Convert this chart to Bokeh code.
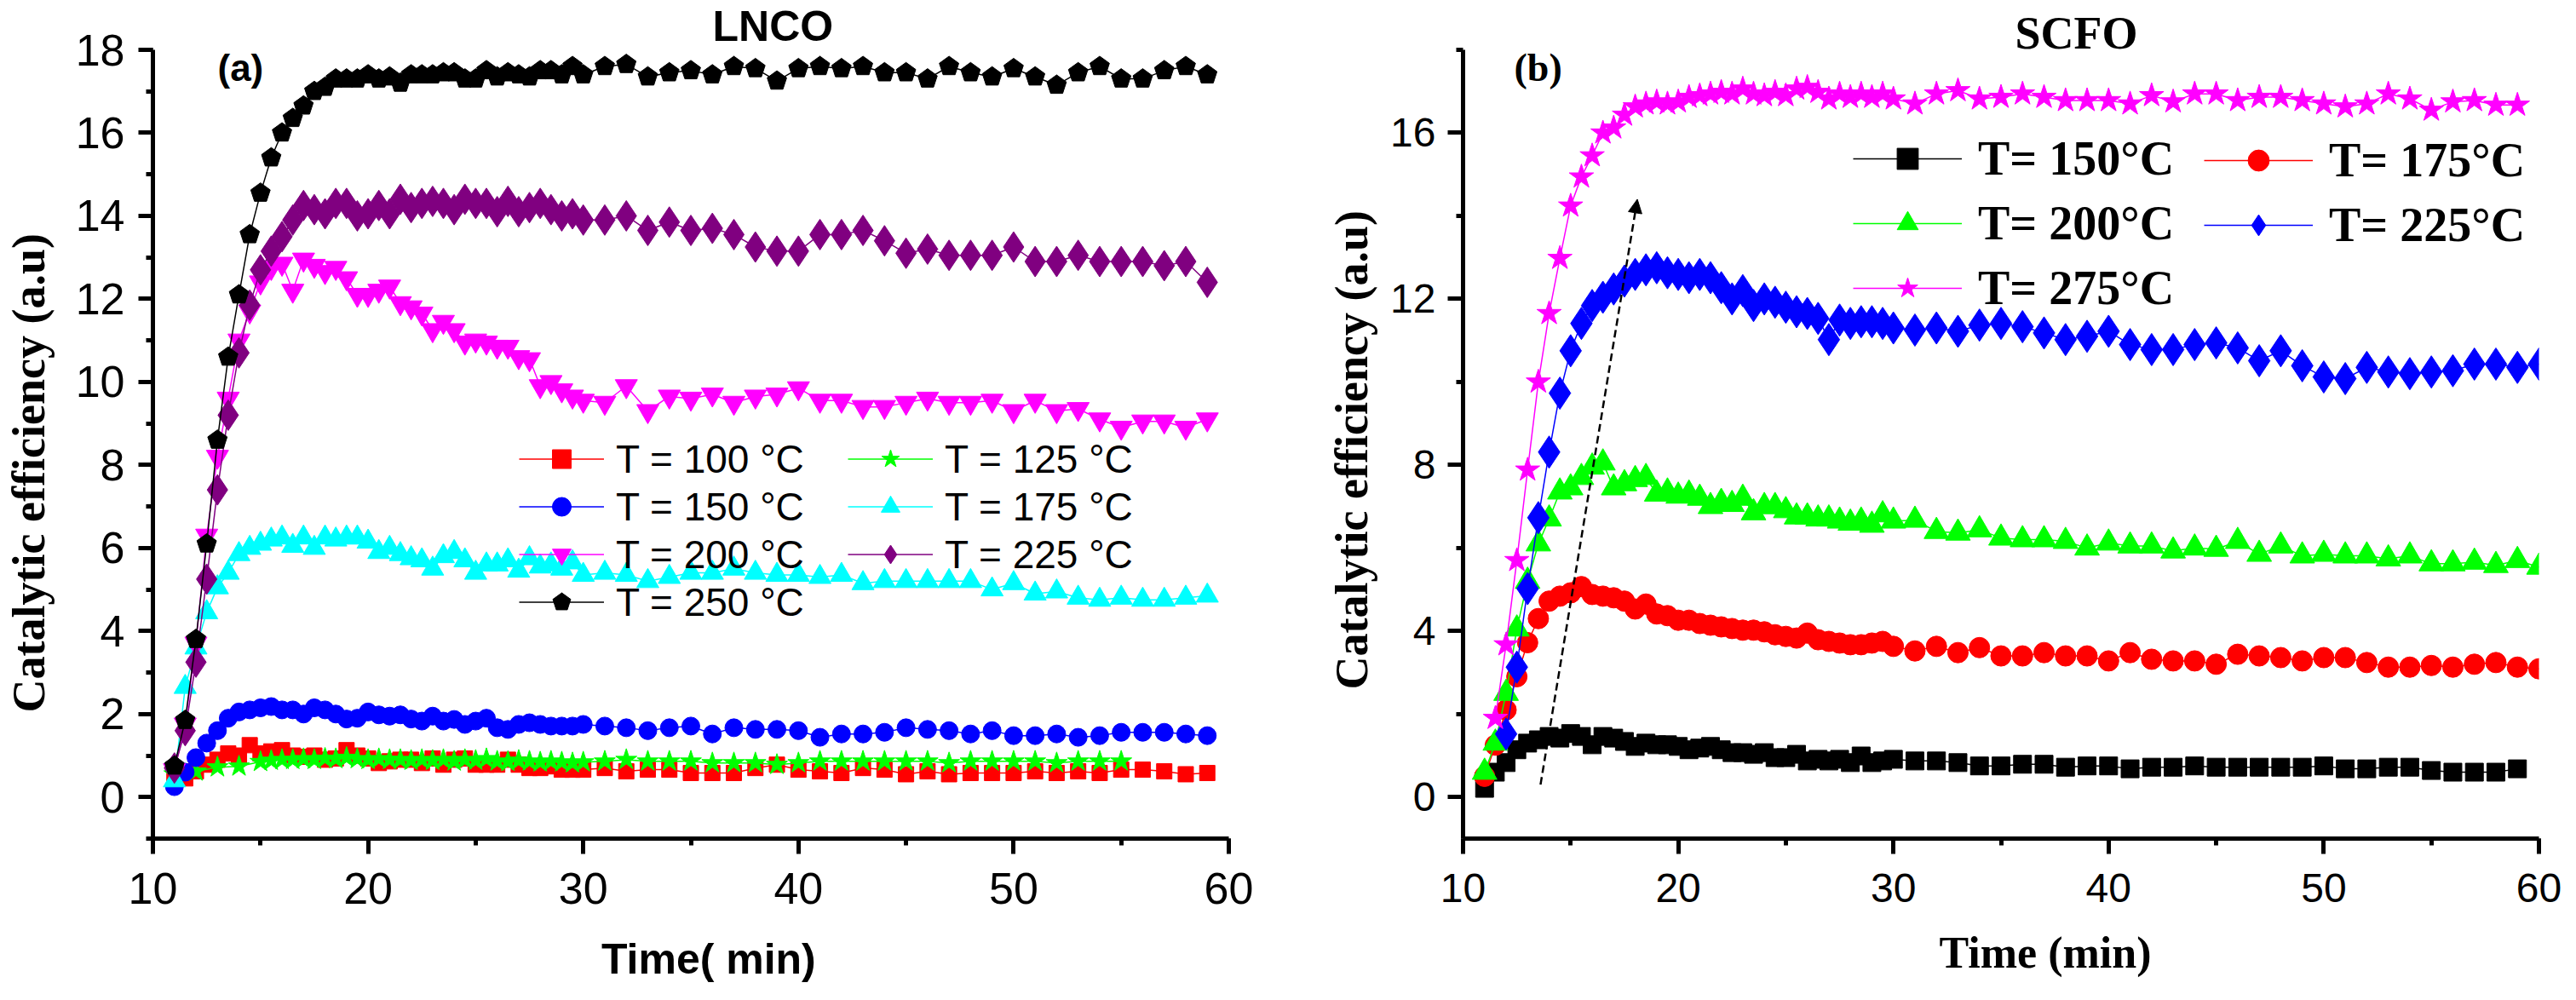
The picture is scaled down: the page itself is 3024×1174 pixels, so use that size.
import math
from bokeh.plotting import figure
from bokeh.layouts import row
from bokeh.models import (Range1d, SingleIntervalTicker, Legend, LegendItem,
                          Label, Arrow, NormalHead)
from bokeh.embed import file_html
from bokeh.resources import INLINE

# ---------------- time axes (min) ----------------
T_DENSE = [11.0, 11.5, 12.0, 12.5, 13.0, 13.5, 14.0, 14.5, 15.0, 15.5, 16.0, 16.5,
           17.0, 17.5, 18.0, 18.5, 19.0, 19.5, 20.0, 20.5, 21.0, 21.5, 22.0, 22.5,
           23.0, 23.5, 24.0, 24.5, 25.0, 25.5, 26.0, 26.5, 27.0, 27.5, 28.0, 28.5,
           29.0, 29.5, 30.0]
T_SPARSE = [31, 32, 33, 34, 35, 36, 37, 38, 39, 40, 41, 42, 43, 44, 45, 46, 47,
            48, 49, 50, 51, 52, 53, 54, 55, 56, 57, 58, 59]
T_SPARSE_60 = T_SPARSE + [60]
T_SPARSE_55 = [31, 32, 33, 34, 35, 36, 37, 38, 39, 40, 41, 42, 43, 44, 45, 46,
               47, 48, 49, 50, 51, 52, 53, 54, 55]
T_EARLY_125 = [11, 12, 13, 14]

# ---------------- panel (a) LNCO ----------------
A_X_100 = T_DENSE + T_SPARSE
A_Y_100 = [0.45, 0.45, 0.62, 0.78, 0.90, 1.05, 1.00, 1.25, 1.05, 1.10, 1.13, 1.00,
           0.97, 1.00, 0.90, 0.93, 1.13, 1.00, 0.93, 0.82, 0.86, 0.90, 0.90, 0.82,
           0.93, 0.78, 0.90, 0.93, 0.78, 0.78, 0.78, 0.90, 0.78, 0.70, 0.70, 0.74,
           0.66, 0.66, 0.66,
           0.70, 0.62, 0.66, 0.66, 0.58, 0.58, 0.58, 0.70, 0.78, 0.66, 0.62, 0.58,
           0.70, 0.66, 0.55, 0.62, 0.55, 0.58, 0.58, 0.58, 0.62, 0.58, 0.62, 0.58,
           0.66, 0.66, 0.62, 0.55, 0.58]

A_X_125 = T_EARLY_125 + T_DENSE[8:] + T_SPARSE_55
A_Y_125 = [0.55, 0.62, 0.72, 0.74,
           0.85, 0.88, 0.90, 0.90, 0.92, 0.90, 0.93, 0.92, 0.95, 0.92, 0.90, 0.92,
           0.90, 0.90, 0.88, 0.90, 0.88, 0.90, 0.86, 0.90, 0.88, 0.92, 0.86, 0.85,
           0.88, 0.86, 0.84, 0.86, 0.84, 0.82, 0.84,
           0.86, 0.90, 0.86, 0.86, 0.86, 0.82, 0.82, 0.82, 0.78, 0.82, 0.86, 0.86,
           0.86, 0.86, 0.86, 0.86, 0.82, 0.86, 0.86, 0.86, 0.86, 0.82, 0.86, 0.86,
           0.86]

A_X_150 = T_DENSE + T_SPARSE
A_Y_150 = [0.25, 0.60, 0.95, 1.30, 1.60, 1.90, 2.05, 2.10, 2.15, 2.18, 2.10, 2.10,
           2.00, 2.15, 2.10, 2.00, 1.88, 1.90, 2.05, 1.98, 1.95, 1.98, 1.88, 1.83,
           1.95, 1.83, 1.87, 1.75, 1.83, 1.90, 1.67, 1.63, 1.75, 1.79, 1.75, 1.71,
           1.71, 1.71, 1.75,
           1.71, 1.67, 1.60, 1.67, 1.71, 1.52, 1.67, 1.63, 1.63, 1.60, 1.44, 1.52,
           1.52, 1.56, 1.67, 1.63, 1.60, 1.52, 1.60, 1.48, 1.48, 1.52, 1.44, 1.48,
           1.56, 1.56, 1.56, 1.52, 1.48]

A_X_175 = T_DENSE + T_SPARSE
A_Y_175 = [0.40, 2.65, 3.60, 4.45, 5.05, 5.40, 5.85, 6.00, 6.10, 6.20, 6.25, 6.05,
           6.25, 6.00, 6.25, 6.20, 6.25, 6.25, 6.15, 5.90, 6.00, 5.85, 5.75, 5.70,
           5.50, 5.80, 5.90, 5.70, 5.40, 5.60, 5.60, 5.70, 5.45, 5.75, 5.55, 5.60,
           5.50, 5.65, 5.35,
           5.40, 5.35, 5.20, 5.30, 5.40, 5.40, 5.50, 5.40, 5.35, 5.35, 5.30, 5.35,
           5.15, 5.20, 5.20, 5.20, 5.20, 5.20, 5.00, 5.15, 4.90, 4.95, 4.80, 4.75,
           4.80, 4.75, 4.75, 4.80, 4.85]

A_X_200 = T_DENSE + T_SPARSE
A_Y_200 = [0.65, 1.75, 3.70, 6.30, 8.20, 9.60, 11.00, 11.70, 12.40, 12.75, 12.85,
           12.20, 12.95, 12.80, 12.65, 12.75, 12.50, 12.10, 12.10, 12.20, 12.30,
           11.90, 11.80, 11.65, 11.25, 11.45, 11.25, 10.95, 11.00, 10.95, 10.85,
           10.85, 10.60, 10.55, 9.90, 10.00, 9.80, 9.65, 9.55,
           9.50, 9.90, 9.30, 9.65, 9.60, 9.70, 9.50, 9.65, 9.70, 9.85, 9.55, 9.55,
           9.40, 9.40, 9.50, 9.60, 9.50, 9.50, 9.55, 9.30, 9.55, 9.30, 9.35, 9.10,
           8.90, 9.05, 9.05, 8.90, 9.10]

A_X_225 = T_DENSE + T_SPARSE
A_Y_225 = [0.70, 1.60, 3.25, 5.25, 7.40, 9.20, 10.70, 11.85, 12.70, 13.15, 13.50,
           13.90, 14.25, 14.15, 14.05, 14.30, 14.30, 14.00, 14.05, 14.25, 14.05,
           14.40, 14.20, 14.30, 14.35, 14.30, 14.15, 14.40, 14.30, 14.30, 14.10,
           14.35, 14.10, 14.20, 14.30, 14.15, 14.00, 14.05, 13.90,
           13.90, 14.00, 13.65, 13.85, 13.65, 13.70, 13.55, 13.25, 13.15, 13.15,
           13.55, 13.55, 13.65, 13.40, 13.10, 13.20, 13.05, 13.05, 13.05, 13.25,
           12.90, 12.90, 13.05, 12.90, 12.90, 12.90, 12.80, 12.90, 12.40]

A_X_250 = T_DENSE + T_SPARSE
A_Y_250 = [0.75, 1.85, 3.80, 6.10, 8.60, 10.60, 12.10, 13.55, 14.55, 15.40, 16.00,
           16.35, 16.65, 17.00, 17.10, 17.30, 17.30, 17.30, 17.40, 17.30, 17.35,
           17.20, 17.40, 17.40, 17.40, 17.45, 17.45, 17.30, 17.30, 17.50, 17.35,
           17.45, 17.40, 17.35, 17.50, 17.50, 17.40, 17.60, 17.40,
           17.60, 17.65, 17.35, 17.45, 17.50, 17.40, 17.60, 17.55, 17.25, 17.55,
           17.60, 17.55, 17.60, 17.45, 17.45, 17.30, 17.60, 17.45, 17.35, 17.55,
           17.35, 17.15, 17.45, 17.60, 17.30, 17.30, 17.50, 17.60, 17.40]

# ---------------- panel (b) SCFO ----------------
B_X_150 = T_DENSE + T_SPARSE
B_Y_150 = [0.21, 0.60, 0.83, 1.14, 1.30, 1.38, 1.46, 1.42, 1.53, 1.46, 1.26, 1.46,
           1.42, 1.34, 1.22, 1.30, 1.26, 1.26, 1.22, 1.14, 1.18, 1.22, 1.14, 1.07,
           1.07, 1.03, 1.07, 0.95, 0.95, 1.03, 0.87, 0.91, 0.87, 0.91, 0.83, 0.99,
           0.83, 0.87, 0.91,
           0.87, 0.87, 0.83, 0.75, 0.75, 0.79, 0.79, 0.72, 0.75, 0.75, 0.68, 0.72,
           0.72, 0.75, 0.72, 0.72, 0.72, 0.72, 0.72, 0.75, 0.68, 0.68, 0.72, 0.72,
           0.64, 0.60, 0.60, 0.60, 0.68]

B_X_175 = T_DENSE + T_SPARSE_60
B_Y_175 = [0.50, 1.25, 2.10, 2.90, 3.72, 4.30, 4.72, 4.84, 4.92, 5.07, 4.88, 4.84,
           4.80, 4.72, 4.53, 4.65, 4.41, 4.37, 4.26, 4.26, 4.18, 4.14, 4.10, 4.06,
           4.02, 4.02, 3.98, 3.91, 3.87, 3.83, 3.95, 3.79, 3.75, 3.71, 3.67, 3.67,
           3.71, 3.75, 3.63,
           3.52, 3.63, 3.48, 3.60, 3.40, 3.40, 3.48, 3.40, 3.40, 3.28, 3.48, 3.32,
           3.28, 3.28, 3.20, 3.44, 3.40, 3.36, 3.28, 3.36, 3.36, 3.24, 3.13, 3.13,
           3.17, 3.13, 3.20, 3.24, 3.13, 3.09]

B_X_200 = T_DENSE + T_SPARSE_60
B_Y_200 = [0.60, 1.30, 2.50, 4.05, 5.20, 6.10, 6.70, 7.35, 7.45, 7.70, 7.95, 8.05,
           7.45, 7.55, 7.65, 7.70, 7.30, 7.35, 7.25, 7.30, 7.20, 7.00, 7.10, 7.05,
           7.20, 6.85, 7.00, 7.00, 6.90, 6.75, 6.75, 6.70, 6.70, 6.65, 6.60, 6.65,
           6.55, 6.80, 6.65,
           6.67, 6.40, 6.36, 6.44, 6.24, 6.20, 6.20, 6.16, 6.00, 6.12, 6.05, 6.05,
           5.93, 6.00, 5.97, 6.16, 5.85, 6.05, 5.81, 5.85, 5.81, 5.81, 5.74, 5.81,
           5.62, 5.62, 5.66, 5.58, 5.70, 5.54]

B_X_225 = T_DENSE[2:] + T_SPARSE_60
B_Y_225 = [1.52, 3.13, 5.02, 6.73, 8.31, 9.73, 10.75, 11.41, 11.84, 12.04, 12.24,
           12.43, 12.59, 12.70, 12.75, 12.63, 12.59, 12.51, 12.59, 12.51, 12.27,
           12.00, 12.20, 11.84, 12.00, 11.92, 11.80, 11.69, 11.65, 11.53, 11.02,
           11.49, 11.41, 11.45, 11.45, 11.41, 11.30,
           11.25, 11.30, 11.22, 11.37, 11.41, 11.33, 11.18, 11.02, 11.10, 11.22,
           10.90, 10.78, 10.78, 10.90, 10.94, 10.82, 10.51, 10.75, 10.39, 10.12,
           10.08, 10.35, 10.24, 10.20, 10.24, 10.27, 10.43, 10.43, 10.35, 10.43]

B_X_275 = T_DENSE[1:] + T_SPARSE
B_Y_275 = [1.90, 3.67, 5.70, 7.88, 10.00, 11.65, 12.98, 14.24, 14.94, 15.45, 16.00,
           16.12, 16.43, 16.63, 16.70, 16.75, 16.70, 16.75, 16.86, 16.90, 16.94,
           16.98, 16.94, 17.06, 16.94, 16.90, 16.98, 16.90, 17.06, 17.10, 16.98,
           16.82, 16.94, 16.86, 16.94, 16.86, 16.94, 16.82,
           16.70, 16.94, 17.02, 16.82, 16.86, 16.94, 16.86, 16.78, 16.78, 16.78,
           16.70, 16.90, 16.75, 16.94, 16.94, 16.78, 16.86, 16.86, 16.78, 16.70,
           16.63, 16.70, 16.94, 16.82, 16.55, 16.75, 16.78, 16.67, 16.67]

A_LABELS = ["T = 100 °C", "T = 125 °C", "T = 150 °C", "T = 175 °C",
            "T = 200 °C", "T = 225 °C", "T = 250 °C"]
B_LABELS = ["T= 150°C", "T= 175°C", "T= 200°C", "T= 225°C", "T= 275°C"]

FRAME_W, FRAME_H = 1263, 926
NBSP = "\u00a0"


def base_figure(left, right, title):
    p = figure(output_backend="svg", toolbar_location=None, title=title,
               frame_width=FRAME_W, frame_height=FRAME_H,
               x_range=Range1d(10, 60), y_range=Range1d(-1, 18),
               min_border_left=left, min_border_right=right,
               min_border_top=58, min_border_bottom=166)
    p.outline_line_color = None
    p.xgrid.visible = False
    p.ygrid.visible = False
    p.background_fill_color = "white"
    p.border_fill_color = "white"
    return p


def style_axes(p, tick_size, y_interval, x_standoff, y_out, y_standoff):
    p.xaxis.ticker = SingleIntervalTicker(interval=10, num_minor_ticks=2)
    p.yaxis.ticker = SingleIntervalTicker(interval=y_interval, num_minor_ticks=2)
    for ax in (p.xaxis[0], p.yaxis[0]):
        ax.axis_line_width = 5
        ax.axis_line_color = "black"
        ax.major_tick_line_width = 5
        ax.minor_tick_line_width = 5
        ax.major_tick_line_color = "black"
        ax.minor_tick_line_color = "black"
        ax.major_tick_in = 0
        ax.minor_tick_in = 0
        ax.minor_tick_out = 8
        ax.major_label_text_font = "Liberation Sans"
        ax.major_label_text_font_size = tick_size
        ax.major_label_text_color = "black"
        ax.axis_label_text_color = "black"
    p.xaxis.major_tick_out = 18
    p.xaxis.major_label_standoff = x_standoff
    p.yaxis.major_tick_out = y_out
    p.yaxis.major_label_standoff = y_standoff


def add_series(p, xs, ys, color, marker, size, lw=1.5):
    ln = p.line(xs, ys, line_color=color, line_width=lw)
    if marker == "pentagon":
        if hasattr(p, "ngon"):
            sc = p.ngon(xs, ys, radius=12, n=5, radius_units="screen",
                        fill_color=color, line_color=color)
        else:
            sc = p.scatter(xs, ys, marker="hex", size=size,
                           fill_color=color, line_color=color)
    else:
        sc = p.scatter(xs, ys, marker=marker, size=size,
                       fill_color=color, line_color=color)
    return [ln, sc]


# ================= panel (a) =================
pa = base_figure(172, 112, "LNCO")
pa.title.align = "left"
pa.title.offset = 657
pa.title.standoff = 0
pa.title.text_font = "Liberation Sans"
pa.title.text_font_style = "bold"
pa.title.text_font_size = "50px"
pa.title.text_color = "black"
style_axes(pa, "52px", 2, 22, 17, 16)

pa.yaxis.axis_label = "Catalytic efficiency (a.u)" + NBSP * 5
pa.yaxis.axis_label_text_font = "Liberation Serif"
pa.yaxis.axis_label_text_font_style = "bold"
pa.yaxis.axis_label_text_font_size = "54px"
pa.yaxis.axis_label_standoff = 22
pa.xaxis.axis_label = NBSP * 3 + "Time( min)"
pa.xaxis.axis_label_text_font = "Liberation Sans"
pa.xaxis.axis_label_text_font_style = "bold"
pa.xaxis.axis_label_text_font_size = "50px"
pa.xaxis.axis_label_standoff = 34

ra = []
ra.append(add_series(pa, A_X_100, A_Y_100, "#FF0000", "square", 18))
ra.append(add_series(pa, A_X_125, A_Y_125, "#00FF00", "star", 26))
ra.append(add_series(pa, A_X_150, A_Y_150, "#0000FF", "circle", 21))
ra.append(add_series(pa, A_X_175, A_Y_175, "#00FFFF", "triangle", 26))
ra.append(add_series(pa, A_X_200, A_Y_200, "#FF00FF", "inverted_triangle", 26))
ra.append(add_series(pa, A_X_225, A_Y_225, "#800080", "diamond", 36))
ra.append(add_series(pa, A_X_250, A_Y_250, "#000000", "pentagon", 22))

leg_common_a = dict(orientation="vertical", glyph_width=100, glyph_height=55,
                    spacing=1, label_standoff=14, padding=0, margin=0,
                    border_line_color=None, background_fill_alpha=0,
                    label_text_font="Liberation Sans", label_text_font_size="46px",
                    label_text_color="black")
leg_a1 = Legend(items=[LegendItem(label=A_LABELS[i], renderers=ra[i]) for i in (0, 2, 4, 6)],
                location=(430, 250), **leg_common_a)
leg_a2 = Legend(items=[LegendItem(label=A_LABELS[i], renderers=ra[i]) for i in (1, 3, 5)],
                location=(816, 306), **leg_common_a)
pa.add_layout(leg_a1)
pa.add_layout(leg_a2)

pa.add_layout(Label(x=76, y=905, x_units="screen", y_units="screen", text="(a)",
                    text_align="left", text_baseline="middle",
                    text_font="Liberation Sans", text_font_style="bold",
                    text_font_size="44px", text_color="black"))

# ================= panel (b) =================
pb = base_figure(160, 38, "SCFO")
pb.title.align = "left"
pb.title.offset = 648
pb.title.standoff = -21
pb.title.text_font = "Liberation Serif"
pb.title.text_font_style = "bold"
pb.title.text_font_size = "54px"
pb.title.text_color = "black"
style_axes(pb, "48px", 4, 23, 18, 14)

pb.yaxis.axis_label = "Catalytic efficiency (a.u)" + NBSP
pb.yaxis.axis_label_text_font = "Liberation Serif"
pb.yaxis.axis_label_text_font_style = "bold"
pb.yaxis.axis_label_text_font_size = "54px"
pb.yaxis.axis_label_standoff = 12
pb.xaxis.axis_label = NBSP * 8 + "Time (min)"
pb.xaxis.axis_label_text_font = "Liberation Serif"
pb.xaxis.axis_label_text_font_style = "bold"
pb.xaxis.axis_label_text_font_size = "52px"
pb.xaxis.axis_label_standoff = 28

rb = []
rb.append(add_series(pb, B_X_150, B_Y_150, "#000000", "square", 21))
rb.append(add_series(pb, B_X_175, B_Y_175, "#FF0000", "circle", 24))
rb.append(add_series(pb, B_X_200, B_Y_200, "#00FF00", "triangle", 29))
rb.append(add_series(pb, B_X_225, B_Y_225, "#0000FF", "diamond", 38))
rb.append(add_series(pb, B_X_275, B_Y_275, "#FF00FF", "star", 30))

leg_common_b = dict(orientation="vertical", glyph_width=128, glyph_height=62,
                    spacing=12, label_standoff=19, padding=0, margin=0,
                    border_line_color=None, background_fill_alpha=0,
                    label_text_font="Liberation Serif", label_text_font_style="bold",
                    label_text_font_size="56px", label_text_color="black")
leg_b1 = Legend(items=[LegendItem(label=B_LABELS[i], renderers=rb[i]) for i in (0, 2, 4)],
                location=(458, 614), **leg_common_b)
leg_b2 = Legend(items=[LegendItem(label=B_LABELS[i], renderers=rb[i]) for i in (1, 3)],
                location=(870, 688), **leg_common_b)
pb.add_layout(leg_b1)
pb.add_layout(leg_b2)

pb.add_layout(Arrow(x_start=13.6, y_start=0.3, x_end=18.1, y_end=14.4,
                    line_color="black", line_width=2.5, line_dash="9 5",
                    end=NormalHead(size=16, fill_color="black", line_color="black",
                                   line_width=1)))

pb.add_layout(Label(x=60, y=905, x_units="screen", y_units="screen", text="(b)",
                    text_align="left", text_baseline="middle",
                    text_font="Liberation Serif", text_font_style="bold",
                    text_font_size="46px", text_color="black"))

layout = row(pa, pb)
open("out.html", "w").write(file_html(layout, INLINE))
